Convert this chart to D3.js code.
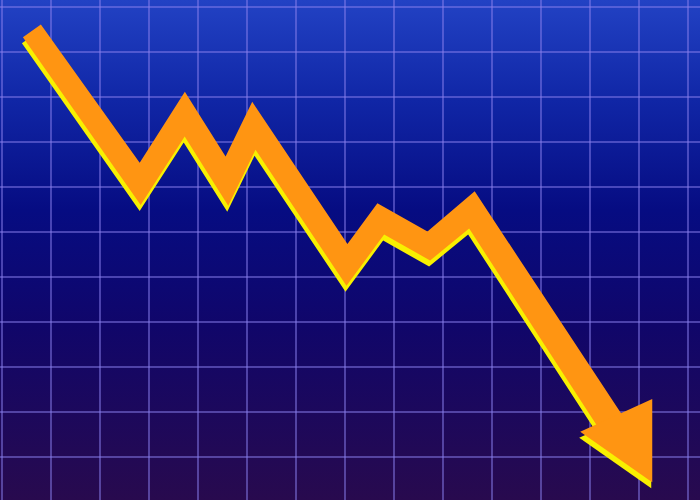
<!DOCTYPE html>
<html>
<head>
<meta charset="utf-8">
<script src="https://cdn.jsdelivr.net/npm/d3@7"></script>
<style>
html,body{margin:0;padding:0;background:#0a0a70;}
svg{display:block;}
</style>
</head>
<body>
<svg id="chart" width="700" height="500"></svg>
<script>
// Trend line (centre line of the arrow), in grid units
const xs = [0.61, 2.82, 3.73, 4.59, 5.14, 7.04, 7.73, 8.71, 9.59, 12.45];
const values = [10.47, 7.07, 8.62, 7.13, 8.36, 5.27, 6.29, 5.69, 6.49, 1.73];
// Arrowhead triangle
const headX = [11.80, 13.27, 13.27];
const headY = [1.56, 2.29, 0.44];
// Grid ticks
const xTicks = d3.range(0, 15);
const yTicks = d3.range(1, 12);

const W = 700, H = 500;
const svg = d3.select("#chart");
const x = d3.scaleLinear().domain([0, 14]).range([2, 688]);
const y = d3.scaleLinear().domain([0, 11]).range([502, 7]);

const defs = svg.append("defs");
const grad = defs.append("linearGradient").attr("id", "bg")
  .attr("x1", 0).attr("y1", 0).attr("x2", 0).attr("y2", 1);
[[0, "#2242c4"], [0.2, "#1026a6"], [0.42, "#060c82"], [0.65, "#10066a"], [1, "#280a4e"]]
  .forEach(([o, c]) => grad.append("stop").attr("offset", o).attr("stop-color", c));

svg.append("rect").attr("width", W).attr("height", H).attr("fill", "url(#bg)");

const grid = svg.append("g").attr("stroke", "rgba(135,125,235,0.5)").attr("stroke-width", 2);
grid.selectAll("line.v").data(xTicks).join("line").attr("class", "v")
  .attr("x1", d => x(d)).attr("x2", d => x(d)).attr("y1", 0).attr("y2", H);
grid.selectAll("line.h").data(yTicks).join("line").attr("class", "h")
  .attr("y1", d => y(d)).attr("y2", d => y(d)).attr("x1", 0).attr("x2", W);

// pixel points via scales
const P = xs.map((d, i) => [x(d), y(values[i])]);
const head = headX.map((d, i) => [x(d), y(headY[i])]);
// band width along the arrow (style), grows slightly toward the head
const widths = [22, 23.5, 24, 24, 24, 24, 24, 24, 25, 27];

function band(P, Wd) {
  const n = P.length, L = [], R = [];
  const dir = (a, b) => { const dx = b[0]-a[0], dy = b[1]-a[1], l = Math.hypot(dx, dy); return [dx/l, dy/l]; };
  for (let i = 0; i < n; i++) {
    const d1 = i > 0 ? dir(P[i-1], P[i]) : dir(P[i], P[i+1]);
    const d2 = i < n-1 ? dir(P[i], P[i+1]) : d1;
    const n1 = [-d1[1], d1[0]], n2 = [-d2[1], d2[0]];
    let m = [n1[0]+n2[0], n1[1]+n2[1]];
    const ml = Math.hypot(m[0], m[1]); m = [m[0]/ml, m[1]/ml];
    const len = (Wd[i]/2) / (m[0]*n1[0] + m[1]*n1[1]);
    L.push([P[i][0] + m[0]*len, P[i][1] + m[1]*len]);
    R.push([P[i][0] - m[0]*len, P[i][1] - m[1]*len]);
  }
  return L.concat(R.reverse());
}
const poly = d3.line();
const bandPts = band(P, widths);

function drawArrow(g, color) {
  g.append("path").attr("d", poly(bandPts) + "Z").attr("fill", color);
  g.append("path").attr("d", poly(head) + "Z").attr("fill", color);
}
drawArrow(svg.append("g").attr("transform", "translate(-1,6)"), "#f8f000");
drawArrow(svg.append("g"), "#ff9512");
</script>
</body>
</html>
